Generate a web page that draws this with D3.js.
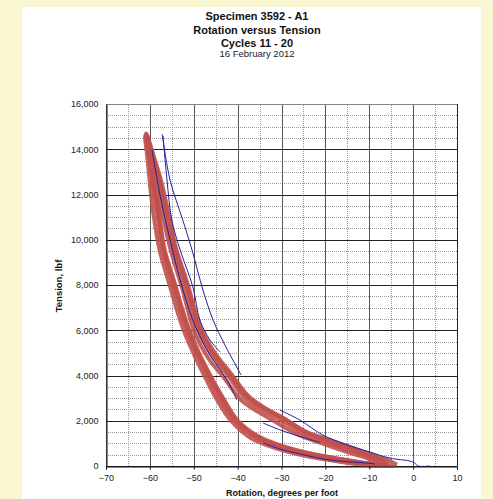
<!DOCTYPE html>
<html>
<head>
<meta charset="utf-8">
<script src="https://cdn.jsdelivr.net/npm/d3@7/dist/d3.min.js"></script>
<style>
  html, body { margin: 0; padding: 0; background: #f8f7d2; }
  svg { display: block; }
</style>
</head>
<body>
<svg id="chart" width="493" height="499"></svg>
<script>
// ---------- DATA ----------
const titleLines = ["Specimen 3592 - A1", "Rotation versus Tension", "Cycles 11 - 20"];
const subtitle = "16 February 2012";
const xLabel = "Rotation, degrees per foot";
const yLabel = "Tension, lbf";
const xTicks = [-70, -60, -50, -40, -30, -20, -10, 0, 10];
const yTicks = [0, 2000, 4000, 6000, 8000, 10000, 12000, 14000, 16000];

// Red cycles: [rotation, tension] – one branch up, the other back down
const redCycle1 = [
  [-3.7,60],[-5,200],[-8,400],[-13,750],[-19,1150],[-24.2,1500],[-30,2150],[-34,2550],[-38,3100],[-42,4100],[-45.6,5000],[-48.6,6050],[-51.6,8000],[-54.2,9600],[-55.7,10900],[-57.7,12600],[-59.0,13500],[-60.8,14650],
  [-59.9,13500],[-59.2,12500],[-58.2,11300],[-56.8,9550],[-54.4,8000],[-52.9,7000],[-51.2,6000],[-49.0,5000],[-46.5,4000],[-43.6,3000],[-40.2,2000],[-35.6,1300],[-30,870],[-23,520],[-16,290],[-9,80],[-5,20],[-3.7,60]
];
const redCycle2 = [
  [-6.0,30],[-7.6,230],[-10,420],[-13.3,620],[-19.7,1050],[-24.7,1400],[-30.4,2050],[-34.2,2450],[-38.3,3000],[-42.2,4000],[-45.9,4900],[-49.0,6000],[-52.0,8000],[-54.6,9550],[-56.2,10900],[-58.0,12600],[-59.2,13500],[-60.9,14700],
  [-60.0,13500],[-59.3,12500],[-58.4,11300],[-57.0,9550],[-54.7,8000],[-53.2,7000],[-51.5,6000],[-49.3,5000],[-46.8,4000],[-44.0,3000],[-40.6,2000],[-36.1,1300],[-30.4,850],[-23.5,500],[-16.7,260],[-9.2,50],[-6.0,30]
];
const redCycle3 = [
  [-7.0,20],[-8.8,200],[-11,380],[-14.5,580],[-20.8,1000],[-25.8,1350],[-31.4,1950],[-35.2,2380],[-39.2,2920],[-43.1,3900],[-46.8,4800],[-49.8,5900],[-52.7,7900],[-55.2,9500],[-56.8,10850],[-58.5,12550],[-59.6,13450],[-61.1,14600],
  [-60.5,13500],[-60.0,12500],[-59.3,11300],[-57.8,9550],[-55.5,8000],[-54.0,7000],[-52.3,6000],[-50.1,5000],[-47.6,4000],[-44.9,3000],[-41.5,2000],[-37.1,1250],[-31.4,790],[-24.6,450],[-17.8,220],[-10.2,30],[-7.0,20]
];
const redCycle4 = [
  [-5.5,60],[-7.0,260],[-9.5,460],[-12.6,660],[-19.0,1100],[-24.0,1450],[-29.6,2120],[-33.4,2520],[-37.5,3080],[-41.5,4080],[-45.2,5000],[-48.4,6100],[-51.4,8050],[-54.0,9600],[-55.5,10950],[-57.5,12650],[-58.9,13550],[-60.7,14650],
  [-59.7,13500],[-59.0,12500],[-58.0,11300],[-56.6,9550],[-54.2,8000],[-52.7,7000],[-51.0,6000],[-48.8,5000],[-46.2,4000],[-43.3,3000],[-39.9,2000],[-35.4,1330],[-29.7,880],[-22.8,530],[-16.0,290],[-8.6,70],[-5.5,60]
];

// Blue traces
const blueA = [[-57.2,14670],[-55.4,12640],[-52.5,10870],[-50.4,9550],[-47.9,7780],[-45.6,6450],[-42.9,5350],[-39.2,4020]];
const blueB = [[-57.0,14590],[-56.1,12640],[-55.0,10870],[-53.1,9550],[-50.2,7910],[-48.6,6450],[-46.3,5570],[-44.0,5040]];
const blueC = [[-59.5,13970],[-57.7,11980],[-55.4,9990],[-53.1,8220],[-50.2,6450],[-47.0,5130],[-43.6,4150],[-41.8,3580],[-40.2,2920]];
const blueD = [[-30.4,2475],[-25.8,2030],[-20.6,1370],[-15.6,970],[-9.9,620],[-5.3,350],[-0.8,220],[0.4,130],[1.1,0],[3.8,0]];
const blueE = [[-34.2,1020],[-30.4,750],[-25.8,530],[-19.0,265],[-10.5,130],[-8.7,90]];
const blueF = [[-34.2,1900],[-30.4,1600],[-25.8,1300],[-21.2,1040]];

const redSeries = [redCycle1, redCycle2, redCycle3, redCycle4];
const blueSeries = [blueA, blueB, blueC, blueD, blueE, blueF];

// ---------- CHART ----------
const svg = d3.select("#chart");
const W = 493, H = 499;

svg.append("rect").attr("x", 0).attr("y", 0).attr("width", W).attr("height", H).attr("fill", "#f8f7d2");
svg.append("rect").attr("x", 22).attr("y", 7).attr("width", 459).attr("height", H - 7).attr("fill", "#ffffff");

const x = d3.scaleLinear().domain([-70, 10]).range([106, 457]);
const y = d3.scaleLinear().domain([0, 16000]).range([466, 104]);

const font = "'Liberation Sans', Arial, sans-serif";

// Title
const titleX = 257;
const titleY = [20, 34, 47];
titleLines.forEach((t, i) => {
  svg.append("text").attr("x", titleX).attr("y", titleY[i])
    .attr("text-anchor", "middle").attr("font-family", font)
    .attr("font-size", 11).attr("font-weight", "bold").attr("fill", "#111").text(t);
});
svg.append("text").attr("x", titleX).attr("y", 57)
  .attr("text-anchor", "middle").attr("font-family", font)
  .attr("font-size", 9.5).attr("fill", "#222").text(subtitle);

// Grid
const g = svg.append("g");
const minorY = d3.range(500, 16000, 500).filter(v => v % 2000 !== 0);
const majorY = yTicks;
const minorX = d3.range(-65, 10, 10);
const majorX = xTicks;

g.selectAll(".minY").data(minorY).enter().append("line")
  .attr("x1", x(-70)).attr("x2", x(10))
  .attr("y1", d => Math.round(y(d)) + 0.5).attr("y2", d => Math.round(y(d)) + 0.5)
  .attr("stroke", "#9a9a9a").attr("stroke-width", 1).attr("stroke-dasharray", "1,1");
g.selectAll(".minX").data(minorX).enter().append("line")
  .attr("y1", y(0)).attr("y2", y(16000))
  .attr("x1", d => Math.round(x(d)) + 0.5).attr("x2", d => Math.round(x(d)) + 0.5)
  .attr("stroke", "#9a9a9a").attr("stroke-width", 1).attr("stroke-dasharray", "1,1");
g.selectAll(".majX").data(majorX).enter().append("line")
  .attr("y1", y(0)).attr("y2", y(16000))
  .attr("x1", d => Math.round(x(d)) + 0.5).attr("x2", d => Math.round(x(d)) + 0.5)
  .attr("stroke", "#555").attr("stroke-width", 1);
g.selectAll(".majY").data(majorY).enter().append("line")
  .attr("x1", x(-70)).attr("x2", x(10))
  .attr("y1", d => Math.round(y(d)) + 0.5).attr("y2", d => Math.round(y(d)) + 0.5)
  .attr("stroke", d => d === 16000 ? "#888" : "#222").attr("stroke-width", 1);

// Data lines
const line = d3.line().x(d => x(d[0])).y(d => y(d[1])).curve(d3.curveCatmullRom.alpha(0.5));

svg.append("g").selectAll("path").data(redSeries).enter().append("path")
  .attr("d", line).attr("fill", "none").attr("stroke", "#c0504d")
  .attr("stroke-width", 4).attr("stroke-linejoin", "round").attr("stroke-opacity", 0.9);

svg.append("g").selectAll("path").data(blueSeries).enter().append("path")
  .attr("d", line).attr("fill", "none").attr("stroke", "#2222a0")
  .attr("stroke-width", 1);

// Axes
const xAxis = d3.axisBottom(x).tickValues(xTicks).tickSize(3).tickFormat(d3.format("d"));
const xg = svg.append("g").attr("transform", `translate(0,${Math.round(y(0)) + 0.5})`).call(xAxis);
xg.select(".domain").attr("stroke", "#111");
xg.selectAll(".tick line").attr("stroke", "#111");
xg.selectAll("text").attr("font-family", font).attr("font-size", 9).attr("fill", "#222").attr("dy", "0.9em");

const yAxis = d3.axisLeft(y).tickValues(yTicks).tickSize(0).tickPadding(8).tickFormat(d3.format(","));
const yg = svg.append("g").attr("transform", `translate(${Math.round(x(-70)) + 0.5},0)`).call(yAxis);
yg.select(".domain").attr("stroke", "#111");
yg.selectAll("text").attr("font-family", font).attr("font-size", 9).attr("fill", "#222");

// Right border
svg.append("line").attr("x1", Math.round(x(10)) + 0.5).attr("x2", Math.round(x(10)) + 0.5)
  .attr("y1", y(0)).attr("y2", y(16000)).attr("stroke", "#222");

// Axis labels
svg.append("text").attr("x", 282).attr("y", 496).attr("text-anchor", "middle")
  .attr("font-family", font).attr("font-size", 9).attr("font-weight", "bold").attr("fill", "#111").text(xLabel);
svg.append("text").attr("transform", "translate(62,286) rotate(-90)").attr("text-anchor", "middle")
  .attr("font-family", font).attr("font-size", 9.5).attr("font-weight", "bold").attr("fill", "#111").text(yLabel);
</script>
</body>
</html>
